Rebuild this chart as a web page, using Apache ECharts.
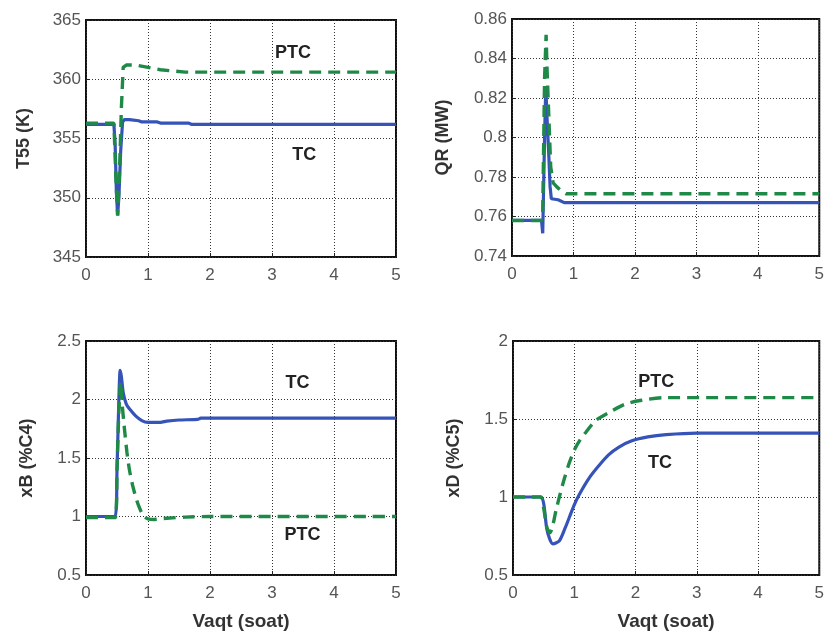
<!DOCTYPE html>
<html>
<head>
<meta charset="utf-8">
<script src="https://cdn.jsdelivr.net/npm/echarts@6/dist/echarts.min.js"></script>
<style>
  html, body { margin: 0; padding: 0; background: #fff; }
  #chart { width: 827px; height: 632px; }
</style>
</head>
<body>
<div id="chart"></div>
<script>
// Shared time axis ticks (hours)
const timeTicks = [0, 1, 2, 3, 4, 5];

// T55 (K): temperature response
const t55TimeTC  = [0, 0.45, 0.47, 0.49, 0.51, 0.53, 0.56, 0.59, 0.62, 0.7, 0.85, 0.9, 1.15, 1.2, 1.65, 1.7, 5];
const t55TC      = [356.2, 356.2, 354.5, 350.5, 348.5, 350.0, 354.0, 356.4, 356.6, 356.6, 356.5, 356.4, 356.4, 356.3, 356.3, 356.2, 356.2];
const t55TimePTC = [0, 0.45, 0.48, 0.51, 0.54, 0.57, 0.6, 0.65, 0.8, 1.0, 1.2, 1.4, 1.6, 5];
const t55PTC     = [356.3, 356.3, 352.0, 348.5, 352.0, 357.5, 361.0, 361.2, 361.2, 361.0, 360.8, 360.7, 360.6, 360.6];

// QR (MW): reboiler duty
const qrTimeTC  = [0, 0.48, 0.5, 0.53, 0.55, 0.57, 0.6, 0.62, 0.64, 0.75, 0.85, 5];
const qrTC      = [0.758, 0.758, 0.7515, 0.80, 0.826, 0.81, 0.79, 0.775, 0.769, 0.7685, 0.767, 0.767];
const qrTimePTC = [0, 0.48, 0.5, 0.53, 0.555, 0.57, 0.6, 0.63, 0.67, 0.73, 0.8, 0.88, 5];
const qrPTC     = [0.758, 0.758, 0.762, 0.83, 0.852, 0.835, 0.81, 0.785, 0.777, 0.775, 0.773, 0.7715, 0.7715];

// xB (%C4): bottoms composition
const xbTimeTC  = [0, 0.47, 0.5, 0.53, 0.55, 0.57, 0.6, 0.65, 0.7, 0.8, 0.9, 1.0, 1.2, 1.3, 1.5, 1.8, 1.85, 5];
const xbTC      = [1.0, 1.0, 1.4, 2.0, 2.25, 2.2, 2.06, 1.96, 1.92, 1.86, 1.82, 1.805, 1.805, 1.815, 1.825, 1.83, 1.84, 1.84];
const xbTimePTC = [0, 0.47, 0.5, 0.53, 0.56, 0.58, 0.62, 0.66, 0.7, 0.75, 0.8, 0.85, 0.9, 0.95, 1.0, 1.1, 1.3, 1.6, 2.0, 5];
const xbPTC     = [0.99, 0.99, 1.4, 1.9, 2.15, 1.98, 1.75, 1.55, 1.40, 1.27, 1.17, 1.09, 1.03, 0.995, 0.98, 0.975, 0.985, 0.995, 1.0, 1.0];

// xD (%C5): distillate composition
const xdTimeTC  = [0, 0.45, 0.5, 0.55, 0.6, 0.65, 0.7, 0.76, 0.85, 0.92, 1.0, 1.08, 1.24, 1.4, 1.56, 1.73, 1.94, 2.2, 2.5, 3.0, 5];
const xdTC      = [1.0, 1.0, 0.96, 0.8, 0.73, 0.70, 0.705, 0.72, 0.80, 0.87, 0.95, 1.015, 1.12, 1.2, 1.27, 1.32, 1.36, 1.385, 1.40, 1.41, 1.41];
const xdTimePTC = [0, 0.45, 0.5, 0.55, 0.6, 0.65, 0.7, 0.77, 0.84, 0.92, 1.0, 1.1, 1.19, 1.35, 1.56, 1.83, 2.1, 2.48, 5];
const xdPTC     = [1.0, 1.0, 0.93, 0.81, 0.77, 0.82, 0.91, 1.02, 1.12, 1.22, 1.30, 1.37, 1.415, 1.49, 1.54, 1.595, 1.62, 1.637, 1.637];

// Controller annotations: [panel, text, time, value]
const annotations = [
  [0, 'PTC', 3.34, 362.2],
  [0, 'TC', 3.52, 353.6],
  [2, 'TC', 3.41, 2.145],
  [2, 'PTC', 3.49, 0.838],
  [3, 'PTC', 2.34, 1.734],
  [3, 'TC', 2.40, 1.22]
];

const BLUE = '#3553b8';
const GREEN = '#1f8a47';
const FONT = '"Liberation Sans", Arial, sans-serif';

const pair = (ts, vs) => ts.map((t, i) => [t, vs[i]]);

const grids = [
  { left: 86, top: 20, width: 310, height: 237 },
  { left: 512, top: 19, width: 311, height: 237 },
  { left: 86, top: 341, width: 310, height: 237 },
  { left: 513, top: 341, width: 310, height: 237 }
].map(g => Object.assign(g, { show: true, borderColor: '#111', borderWidth: 2, backgroundColor: '#fff' }));

const yDefs = [
  { name: 'T55 (K)', min: 345, max: 365, interval: 5, gap: 53 },
  { name: 'QR (MW)', min: 0.74, max: 0.86, interval: 0.02, gap: 60 },
  { name: 'xB (%C4)', min: 0.5, max: 2.5, interval: 0.5, gap: 50 },
  { name: 'xD (%C5)', min: 0.5, max: 2, interval: 0.5, gap: 50 }
];

const splitLine = { show: true, lineStyle: { color: '#333', width: 1, type: [1, 2] } };
const axisTick = { show: true, inside: true, length: 4, lineStyle: { color: '#222', width: 1 } };

const xAxes = grids.map((g, i) => ({
  type: 'value', gridIndex: i, min: timeTicks[0], max: timeTicks[timeTicks.length - 1], interval: 1,
  name: i >= 2 ? 'Vaqt (soat)' : '', nameLocation: 'middle', nameGap: 37,
  nameTextStyle: { fontFamily: FONT, fontWeight: 'bold', fontSize: 19, color: '#333' },
  axisLine: { show: false }, axisTick, splitLine,
  axisLabel: { fontFamily: FONT, fontSize: 17, color: '#555', margin: 10 }
}));

const yAxes = yDefs.map((d, i) => ({
  type: 'value', gridIndex: i, min: d.min, max: d.max, interval: d.interval,
  name: d.name, nameLocation: 'middle', nameGap: d.gap, nameRotate: 90,
  nameTextStyle: { fontFamily: FONT, fontWeight: 'bold', fontSize: 18, color: '#333' },
  axisLine: { show: false }, axisTick, splitLine,
  axisLabel: { fontFamily: FONT, fontSize: 17, color: '#555', margin: 5,
    formatter: v => String(+v.toFixed(4)) }
}));

function markFor(panel) {
  const items = annotations.filter(a => a[0] === panel).map(a => ({
    coord: [a[2], a[3]], value: a[1]
  }));
  if (!items.length) return undefined;
  return {
    symbol: 'rect', symbolSize: 1, itemStyle: { color: 'rgba(0,0,0,0)' },
    label: { show: true, position: 'inside', formatter: p => p.value,
      fontFamily: FONT, fontWeight: 'bold', fontSize: 18, color: '#222' },
    data: items, silent: true
  };
}

function lineSeries(panel, ts, vs, color, dashed, smooth) {
  return {
    type: 'line', xAxisIndex: panel, yAxisIndex: panel,
    data: pair(ts, vs), showSymbol: false, smooth: smooth || false,
    lineStyle: { color, width: dashed ? 3.4 : 3.2, type: dashed ? [12, 7] : 'solid' },
    animation: false, z: dashed ? 3 : 2
  };
}

const series = [
  lineSeries(0, t55TimeTC, t55TC, BLUE, false),
  lineSeries(0, t55TimePTC, t55PTC, GREEN, true),
  lineSeries(1, qrTimeTC, qrTC, BLUE, false),
  lineSeries(1, qrTimePTC, qrPTC, GREEN, true),
  lineSeries(2, xbTimeTC, xbTC, BLUE, false, 0.2),
  lineSeries(2, xbTimePTC, xbPTC, GREEN, true, 0.2),
  lineSeries(3, xdTimeTC, xdTC, BLUE, false, 0.3),
  lineSeries(3, xdTimePTC, xdPTC, GREEN, true, 0.3)
];
[0, 2, 3].forEach(p => { series[p * 2].markPoint = markFor(p); });

const chart = echarts.init(document.getElementById('chart'), null, { renderer: 'canvas' });
chart.setOption({
  animation: false,
  backgroundColor: '#fff',
  grid: grids, xAxis: xAxes, yAxis: yAxes, series
});
</script>
</body>
</html>
